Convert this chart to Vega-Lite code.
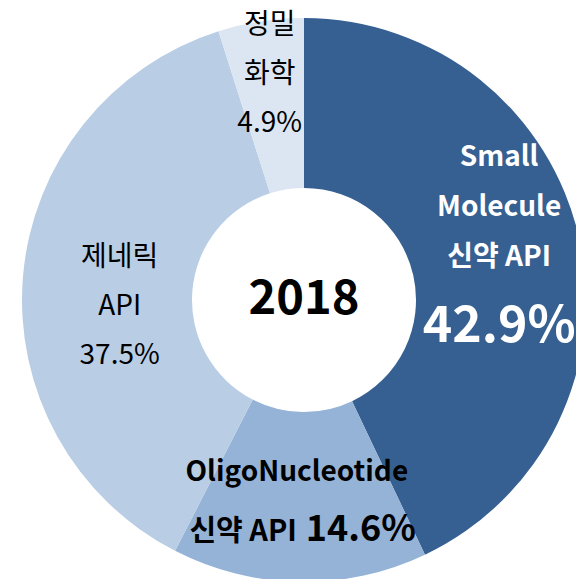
{
  "$schema": "https://vega.github.io/schema/vega-lite/v6.json",
  "autosize": "none",
  "width": 544,
  "height": 558,
  "padding": {"left": 32, "top": 21, "right": 0, "bottom": 0},
  "background": "white",
  "view": {"stroke": null},
  "config": {"text": {"font": "Noto Sans CJK KR"}},
  "data": {
    "values": [
      {"idx": 1, "cat": "Small Molecule 신약 API", "value": 42.9, "pct": "42.9%"},
      {"idx": 2, "cat": "OligoNucleotide 신약 API", "value": 14.6, "pct": "14.6%"},
      {"idx": 3, "cat": "제네릭 API", "value": 37.5, "pct": "37.5%"},
      {"idx": 4, "cat": "정밀화학", "value": 4.9, "pct": "4.9%"}
    ]
  },
  "layer": [
    {
      "mark": {"type": "arc", "outerRadius": 282, "innerRadius": 112},
      "encoding": {
        "theta": {"field": "value", "type": "quantitative", "stack": true},
        "order": {"field": "idx", "type": "quantitative"},
        "color": {
          "field": "cat",
          "type": "nominal",
          "legend": null,
          "scale": {
            "domain": ["Small Molecule 신약 API", "OligoNucleotide 신약 API", "제네릭 API", "정밀화학"],
            "range": ["#366092", "#95B3D7", "#B9CDE5", "#DCE6F2"]
          }
        }
      }
    },
    {
      "mark": {"type": "text", "radius": 200, "dy": -98, "fontSize": 28, "fontWeight": "bold", "fill": "white", "lineBreak": "|", "lineHeight": 50, "align": "center", "baseline": "middle"},
      "encoding": {
        "theta": {"field": "value", "type": "quantitative", "stack": true},
        "order": {"field": "idx", "type": "quantitative"},
        "detail": {"field": "cat", "type": "nominal"},
        "text": {"condition": {"test": "datum.idx == 1", "value": "Small|Molecule|신약 API"}, "value": ""}
      }
    },
    {
      "mark": {"type": "text", "radius": 200, "dy": 71, "fontSize": 50, "fontWeight": "bold", "fill": "white", "align": "center", "baseline": "middle"},
      "encoding": {
        "theta": {"field": "value", "type": "quantitative", "stack": true},
        "order": {"field": "idx", "type": "quantitative"},
        "detail": {"field": "cat", "type": "nominal"},
        "text": {"condition": {"test": "datum.idx == 1", "field": "pct"}, "value": ""}
      }
    },
    {
      "mark": {"type": "text", "radius": 200, "dx": -4, "dy": -27, "fontSize": 28, "fontWeight": "bold", "fill": "black", "align": "center", "baseline": "middle"},
      "encoding": {
        "theta": {"field": "value", "type": "quantitative", "stack": true},
        "order": {"field": "idx", "type": "quantitative"},
        "detail": {"field": "cat", "type": "nominal"},
        "text": {"condition": {"test": "datum.idx == 2", "value": "OligoNucleotide"}, "value": ""}
      }
    },
    {
      "mark": {"type": "text", "radius": 200, "dx": -4, "dy": 41, "fontSize": 29, "fontWeight": "bold", "fill": "black", "align": "right", "baseline": "alphabetic"},
      "encoding": {
        "theta": {"field": "value", "type": "quantitative", "stack": true},
        "order": {"field": "idx", "type": "quantitative"},
        "detail": {"field": "cat", "type": "nominal"},
        "text": {"condition": {"test": "datum.idx == 2", "value": "신약 API"}, "value": ""}
      }
    },
    {
      "mark": {"type": "text", "radius": 200, "dx": 5, "dy": 41, "fontSize": 36, "fontWeight": "bold", "fill": "black", "align": "left", "baseline": "alphabetic"},
      "encoding": {
        "theta": {"field": "value", "type": "quantitative", "stack": true},
        "order": {"field": "idx", "type": "quantitative"},
        "detail": {"field": "cat", "type": "nominal"},
        "text": {"condition": {"test": "datum.idx == 2", "field": "pct"}, "value": ""}
      }
    },
    {
      "mark": {"type": "text", "radius": 185, "dy": -27, "fontSize": 28, "fill": "black", "lineBreak": "|", "lineHeight": 49, "align": "center", "baseline": "middle"},
      "encoding": {
        "theta": {"field": "value", "type": "quantitative", "stack": true},
        "order": {"field": "idx", "type": "quantitative"},
        "detail": {"field": "cat", "type": "nominal"},
        "text": {"condition": {"test": "datum.idx == 3", "value": "제네릭|API|37.5%"}, "value": ""}
      }
    },
    {
      "mark": {"type": "text", "radius": 230, "dx": 1, "dy": -47, "fontSize": 28, "fill": "black", "lineBreak": "|", "lineHeight": 49, "align": "center", "baseline": "middle"},
      "encoding": {
        "theta": {"field": "value", "type": "quantitative", "stack": true},
        "order": {"field": "idx", "type": "quantitative"},
        "detail": {"field": "cat", "type": "nominal"},
        "text": {"condition": {"test": "datum.idx == 4", "value": "정밀|화학|4.9%"}, "value": ""}
      }
    },
    {
      "data": {"values": [{"year": "2018"}]},
      "mark": {"type": "text", "fontSize": 47, "fontWeight": "bold", "fill": "black", "align": "center", "baseline": "middle"},
      "encoding": {
        "text": {"field": "year", "type": "nominal"}
      }
    }
  ]
}
